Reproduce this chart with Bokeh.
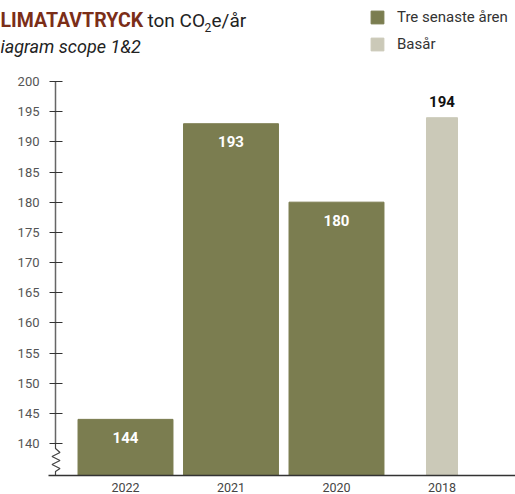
from bokeh.plotting import figure
from bokeh.models import Range1d, FixedTicker, Label, ColumnDataSource, Legend, LegendItem
from bokeh.core.properties import value
from bokeh.embed import file_html
from bokeh.resources import INLINE

# ---- data ----
years = ["2022", "2021", "2020", "2018"]
emissions = [144, 193, 180, 194]
kinds = ["recent", "recent", "recent", "base"]
y_ticks = [140, 145, 150, 155, 160, 165, 170, 175, 180, 185, 190, 195, 200]
title_bold = "LIMATAVTRYCK"
title_unit_a = "ton CO"
title_unit_sub = "2"
title_unit_b = "e/år"
subtitle = "iagram scope 1&2"
legend_labels = ["Tre senaste åren", "Basår"]

OLIVE = "#7B7D50"
BASE = "#CBC9B8"
RED = "#7B2E18"
FONT = "Roboto"

W, H = 515, 494
AXIS_PX = 55          # page x of the y axis
BOTTOM = 475          # expected frame bottom (page px)
PX_200, PX_140 = 81, 443
per_px = (200 - 140) / (PX_140 - PX_200)
Y1 = 200 + PX_200 * per_px
Y0 = 140 - (BOTTOM - PX_140) * per_px
CAT0_PX, CAT_STEP = 125.0, 105.5
X0 = (0 - CAT0_PX) / CAT_STEP
X1 = (W - CAT0_PX) / CAT_STEP

xs = list(range(len(years)))

p = figure(width=W, height=H, output_backend="svg", toolbar_location=None,
           x_range=Range1d(X0, X1), y_range=Range1d(Y0, Y1),
           min_border_left=0, min_border_right=0, min_border_top=0,
           min_border_bottom=10, background_fill_color="white",
           border_fill_color="white", outline_line_color=None)
p.grid.visible = False

renderers = []
for kind, color, width, lbl in [("recent", OLIVE, 0.9, legend_labels[0]),
                                 ("base", BASE, 0.294, legend_labels[1])]:
    idx = [i for i, k in enumerate(kinds) if k == kind]
    s = ColumnDataSource(dict(x=[xs[i] for i in idx], top=[emissions[i] for i in idx],
                              t=[str(emissions[i]) for i in idx]))
    r = p.vbar(x="x", top="top", bottom=Y0, width=width, color=color, source=s)
    renderers.append((lbl, r))
    if kind == "recent":
        p.text(x="x", y="top", text="t", source=s, text_color="white",
               text_font=value(FONT), text_font_style="bold", text_font_size="15px",
               text_align="center", text_baseline="middle", y_offset=18)
    else:
        p.text(x="x", y="top", text="t", source=s, text_color="#111111",
               text_font=value(FONT), text_font_style="bold", text_font_size="15px",
               text_align="center", text_baseline="middle", y_offset=-16)

legend = Legend(items=[LegendItem(label=l, renderers=[r]) for l, r in renderers],
                location=(369, BOTTOM - 12 - 41), orientation="vertical",
                glyph_width=16, glyph_height=16, label_height=16, spacing=9,
                label_standoff=12, padding=0, margin=0, border_line_color=None,
                background_fill_alpha=0, label_text_font=FONT,
                label_text_font_size="15px", label_text_color="#333333")
p.add_layout(legend)

# axes
sx = 1.0 / CAT_STEP
def dx(px):
    return X0 + px * sx
def dy(py):
    return Y1 - py * per_px

ya = p.yaxis[0]
ya.fixed_location = dx(AXIS_PX)
ya.ticker = FixedTicker(ticks=y_ticks)
ya.bounds = (140, 200)
ya.axis_line_color = "#666666"
ya.axis_line_width = 1.5
ya.major_tick_line_color = "#333333"
ya.major_tick_line_width = 1.2
ya.major_tick_out = 6
ya.major_tick_in = 7
ya.minor_tick_line_color = None
ya.major_label_standoff = 10
ya.major_label_text_font = FONT
ya.major_label_text_font_size = "13px"
ya.major_label_text_color = "#555555"

xa = p.xaxis[0]
xa.ticker = FixedTicker(ticks=xs)
xa.bounds = (dx(48), X1 + 1)
xa.major_label_overrides = {i: y for i, y in zip(xs, years)}
xa.axis_line_color = "#333333"
xa.axis_line_width = 1.5
xa.major_tick_line_color = None
xa.minor_tick_line_color = None
xa.major_label_standoff = 1
xa.major_label_text_font = FONT
xa.major_label_text_font_size = "12.5px"
xa.major_label_text_color = "#444444"

# axis break zigzag
zz_px = [(0, 443), (0, 448), (4.5, 452), (-3.5, 456), (4.5, 460), (-3.5, 464),
         (4.5, 468), (0, 471), (0, BOTTOM)]
p.line(x=[dx(AXIS_PX + a) for a, _ in zz_px], y=[dy(b) for _, b in zz_px],
       line_color="#444444", line_width=1.2)

def lab(text, px, py, size, color="#222222", style="normal", align="left"):
    p.add_layout(Label(x=dx(px), y=dy(py), text=text, text_font=FONT,
                       text_font_size=size, text_color=color,
                       text_font_style=style, text_align=align,
                       text_baseline="middle"))

lab(title_bold, 0, 20, "19.5px", RED, "bold")
lab(title_unit_a, 147, 20, "19px")
lab(title_unit_sub, 204, 27, "12px")
lab(title_unit_b, 211, 20, "19px")
lab(subtitle, 0, 46, "18px", "#222222", "italic")

open("out.html", "w").write(file_html(p, INLINE))
